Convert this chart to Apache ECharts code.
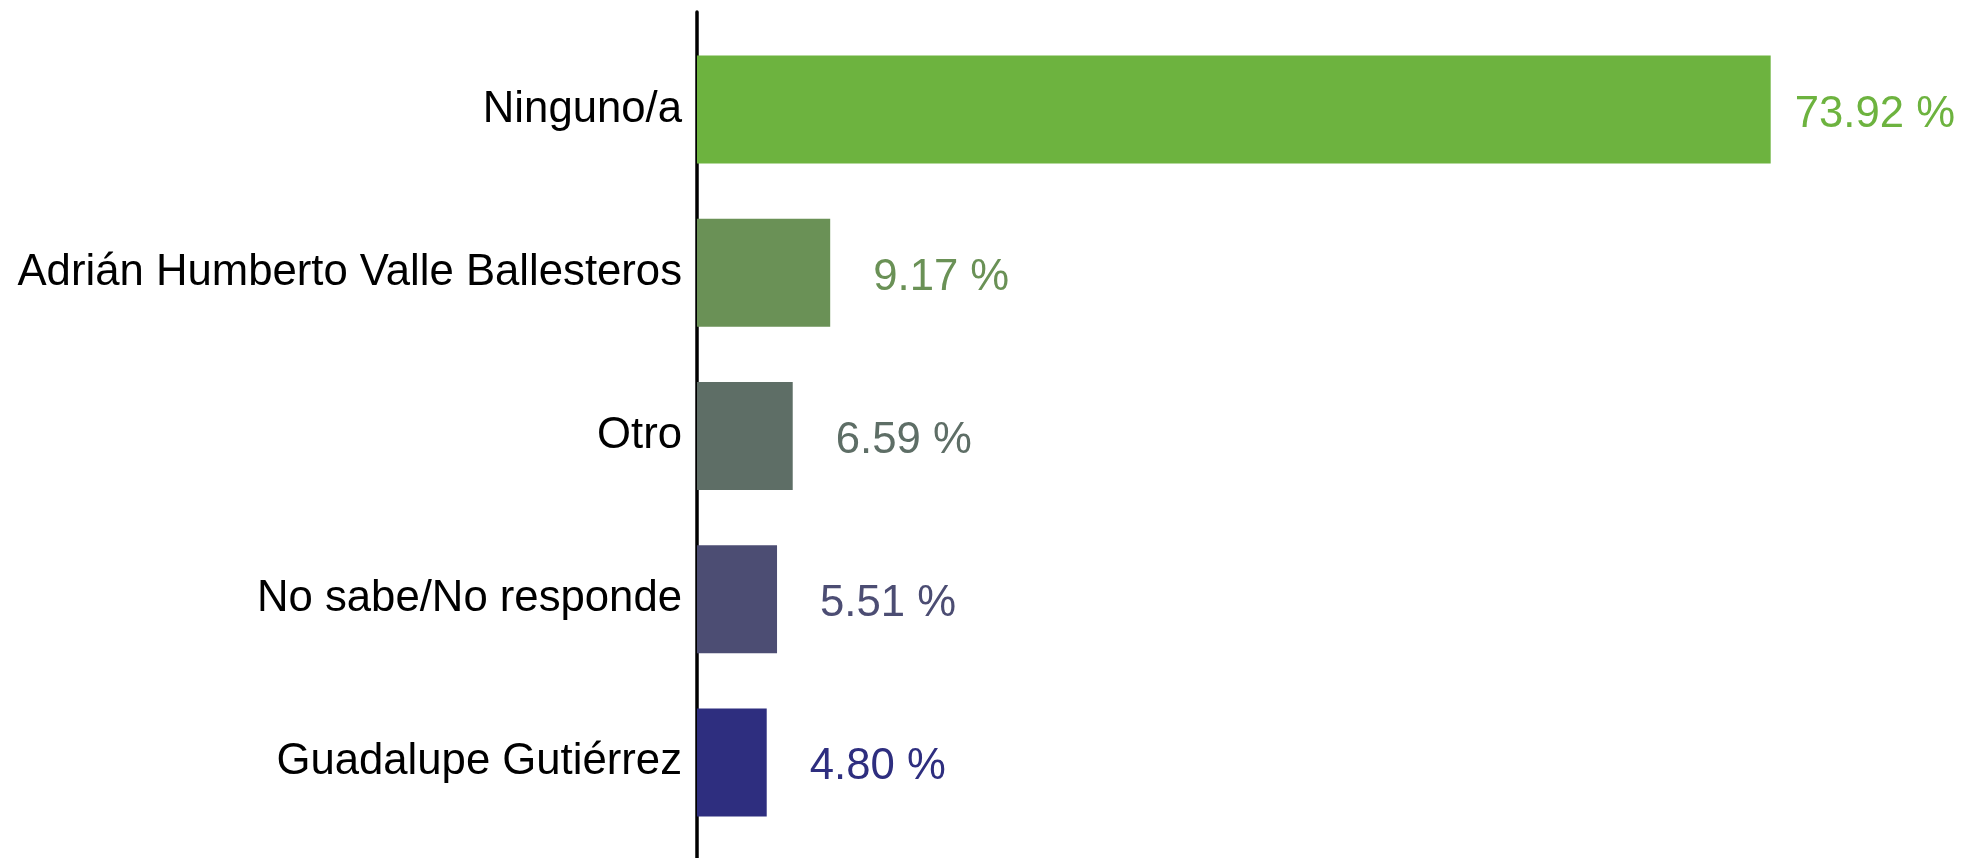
<!DOCTYPE html>
<html>
<head>
<meta charset="utf-8">
<script src="https://cdn.jsdelivr.net/npm/echarts@6/dist/echarts.min.js"></script>
<style>
html,body{margin:0;padding:0;background:#fff;}
#c{width:1962px;height:858px;}
</style>
</head>
<body>
<div id="c"></div>
<script>
const categories = ["Ninguno/a", "Adrián Humberto Valle Ballesteros", "Otro", "No sabe/No responde", "Guadalupe Gutiérrez"];
const values = [73.92, 9.17, 6.59, 5.51, 4.80];
const colors = ["#6db33f", "#6a9156", "#5e6e66", "#4c4d73", "#2e2e7f"];
const labelDistances = [24, 43, 43, 43, 43];

const chart = echarts.init(document.getElementById('c'), null, {renderer: 'canvas'});
const font = "'Liberation Sans', Arial, sans-serif";

chart.setOption({
  animation: false,
  backgroundColor: '#ffffff',
  grid: [
    {left: 697, top: 28, height: 816, width: 1162, containLabel: false},
    {left: 697, top: 12, bottom: 0, width: 1162, containLabel: false}
  ],
  xAxis: [
    {gridIndex: 0, type: 'value', min: 0, max: 80, show: false},
    {gridIndex: 1, type: 'value', min: 0, max: 80, show: false}
  ],
  yAxis: [
    {
      gridIndex: 0, type: 'category', data: categories, inverse: true,
      axisLine: {show: false}, axisTick: {show: false},
      axisLabel: {color: '#000', fontFamily: font, fontSize: 43.7, margin: 15, padding: [14, 0, 0, 0]}
    },
    {
      gridIndex: 1, type: 'category', data: [''],
      axisLine: {show: true, lineStyle: {color: '#000', width: 3.5}},
      axisTick: {show: false}, axisLabel: {show: false}
    }
  ],
  series: [{
    type: 'bar',
    xAxisIndex: 0, yAxisIndex: 0,
    barWidth: 108,
    data: values.map((v, i) => ({
      value: v,
      itemStyle: {color: colors[i]},
      label: {
        show: true, position: 'right', distance: labelDistances[i],
        offset: [0, 5],
        color: colors[i], fontFamily: font, fontSize: 43.7,
        formatter: (p) => p.value.toFixed(2) + ' %'
      }
    }))
  }]
});
</script>
</body>
</html>
